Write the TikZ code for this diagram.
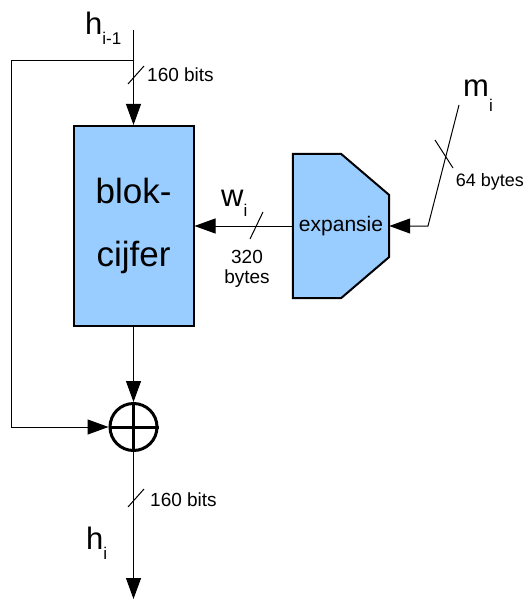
\documentclass[tikz,border=0pt]{standalone}
\usepackage{fontspec}
\setmainfont{Liberation Sans}
\usetikzlibrary{arrows.meta,backgrounds,calc}
\definecolor{blokblauw}{HTML}{99CCFF}
\newcommand{\idx}[2][10pt]{\raisebox{-#1}{\fontsize{17}{17}\selectfont #2}}

\begin{document}
\begin{tikzpicture}[x=1pt, y=-1pt, >={Triangle[length=21pt,width=15pt]},
    lijn/.style={line width=1pt},
    streep/.style={line width=1pt},
    klein/.style={inner sep=0pt, font=\fontsize{19}{20}\selectfont},
    groot/.style={inner sep=0pt, font=\fontsize{31}{31}\selectfont}]

    \useasboundingbox (0,0) rectangle (526,599);

    % Blokcijfer
    \node[draw, line width=2pt, fill=blokblauw, minimum width=120, minimum height=200,
          align=center, font=\fontsize{35}{63}\selectfont] (blok) at (133.5,226) {blok-\\cijfer};

    % Expansie (Form im Hintergrund)
    \node[minimum width=96, minimum height=144, inner sep=0pt,
          font=\fontsize{21}{21}\selectfont] (exp) at (341,226) {expansie};
    \begin{scope}[on background layer]
        \draw[line width=2pt, fill=blokblauw] (exp.south west) -- (exp.north west)
            -- (exp.north) -- ($(exp.east)+(0,-31)$) -- ($(exp.east)+(0,31)$)
            -- (exp.south) -- cycle;
    \end{scope}

    % XOR
    \node[circle, draw, line width=3pt, minimum size=47, inner sep=0pt] (xor) at (133.5,427) {};
    \draw[line width=3pt] (xor.north) -- (xor.south) (xor.west) -- (xor.east);

    % Hilfspunkte
    \coordinate (top) at (133.5,30);
    \coordinate (fb) at (133.5,61);
    \coordinate (fbl) at (11,61);
    \coordinate (uit) at (133.5,599);
    \coordinate (mknik) at (428,226);
    \coordinate (mtop) at (459,105);

    % Verbindungen
    \draw[lijn, ->] (top) -- (blok);
    \draw[lijn, ->] (blok) -- (xor);
    \draw[lijn, ->] (fb) -- (fbl) |- (xor);
    \draw[lijn, ->] (xor) -- (uit);
    \draw[lijn, ->] (exp) -- (blok);
    \draw[lijn, ->] (mtop) -- (mknik) -- (exp);

    % Strepen (Busbreite)
    \draw[streep] (128,84) -- (144,66);
    \draw[streep] (128,507) -- (144,489);
    \draw[streep] (250,239) -- (263,212);
    \draw[streep] (435,140) -- (453,168);

    % Beschriftungen
    \node[groot, anchor=base west] (hin) at (85,35) {h\idx{i-1}};
    \node[groot, anchor=base west] (huit) at (86,549) {h\idx{i}};
    \node[groot, anchor=base west] (wlbl) at (221,206) {w\idx{i}};
    \node[groot, anchor=base west] (mlbl) at (463,97) {m\idx[14pt]{i}};
    \node[klein, anchor=base west] (bits1) at (147,82) {160 bits};
    \node[klein, anchor=base west] (bits2) at (150,506) {160 bits};
    \node[klein, anchor=base east, font=\fontsize{18}{20}\selectfont] (bytes64) at (524,186) {64 bytes};
    \node[klein, align=center, anchor=north] (bytes320) at (247,250) {320\\bytes};

\end{tikzpicture}
\end{document}
